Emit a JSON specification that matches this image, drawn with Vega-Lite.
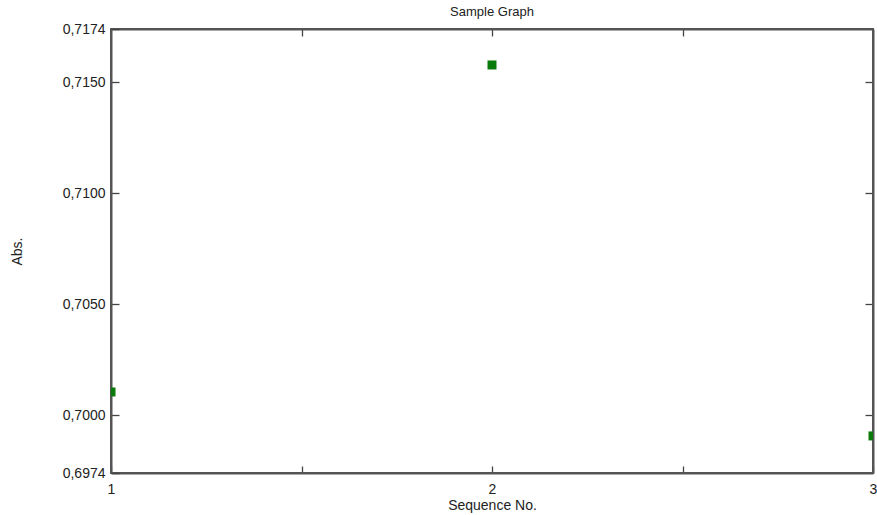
{
  "$schema": "https://vega.github.io/schema/vega-lite/v6.json",
  "width": 762,
  "height": 444,
  "autosize": "none",
  "padding": {"left": 111, "top": 29, "right": 4, "bottom": 42},
  "background": "white",
  "config": {
    "font": "Liberation Sans",
    "view": {"stroke": "#555555", "strokeWidth": 2},
    "axis": {"grid": false, "domainColor": "#555555", "domainWidth": 2, "tickColor": "#444444", "tickWidth": 1.3, "labelColor": "#222222", "titleColor": "#222222", "labelFontSize": 14, "titleFontSize": 14, "titleFontWeight": "normal", "labelFont": "Liberation Sans", "titleFont": "Liberation Sans"}
  },
  "title": {"text": "Sample Graph", "fontSize": 13, "fontWeight": "normal", "color": "#222222", "font": "Liberation Sans", "offset": 3},
  "data": {"values": [
    {"seq": 1, "abs": 0.70105},
    {"seq": 2, "abs": 0.71578},
    {"seq": 3, "abs": 0.69907}
  ]},
  "layer": [
    {
      "mark": {"type": "square", "size": 81, "color": "#0a7a0a", "opacity": 1, "clip": true},
      "encoding": {
        "x": {"field": "seq", "type": "quantitative", "scale": {"domain": [1, 3], "nice": false, "zero": false},
          "axis": {"orient": "bottom", "title": "Sequence No.", "values": [1, 1.5, 2, 2.5, 3], "labelExpr": "datum.value % 1 == 0 ? format(datum.value, 'd') : ''", "tickSize": -7, "labelPadding": 16, "titlePadding": 2, "labelFlush": false}},
        "y": {"field": "abs", "type": "quantitative", "scale": {"domain": [0.6974, 0.7174], "nice": false, "zero": false},
          "axis": {"orient": "left", "title": "Abs.", "values": [0.6974, 0.7, 0.705, 0.71, 0.715, 0.7174], "labelExpr": "replace(format(datum.value, '.4f'), '.', ',')", "tickSize": -8, "labelPadding": 14, "titlePadding": 38, "labelFlush": false}}
      }
    },
    {
      "mark": {"type": "square", "opacity": 0},
      "encoding": {
        "x": {"field": "seq", "type": "quantitative", "scale": {"domain": [1, 3], "nice": false, "zero": false},
          "axis": {"orient": "top", "title": null, "values": [1.5, 2, 2.5], "labels": false, "tickSize": -7}},
        "y": {"field": "abs", "type": "quantitative", "scale": {"domain": [0.6974, 0.7174], "nice": false, "zero": false},
          "axis": {"orient": "right", "title": null, "values": [0.7, 0.705, 0.71, 0.715], "labels": false, "tickSize": -8}}
      }
    }
  ],
  "resolve": {"axis": {"x": "independent", "y": "independent"}}
}
